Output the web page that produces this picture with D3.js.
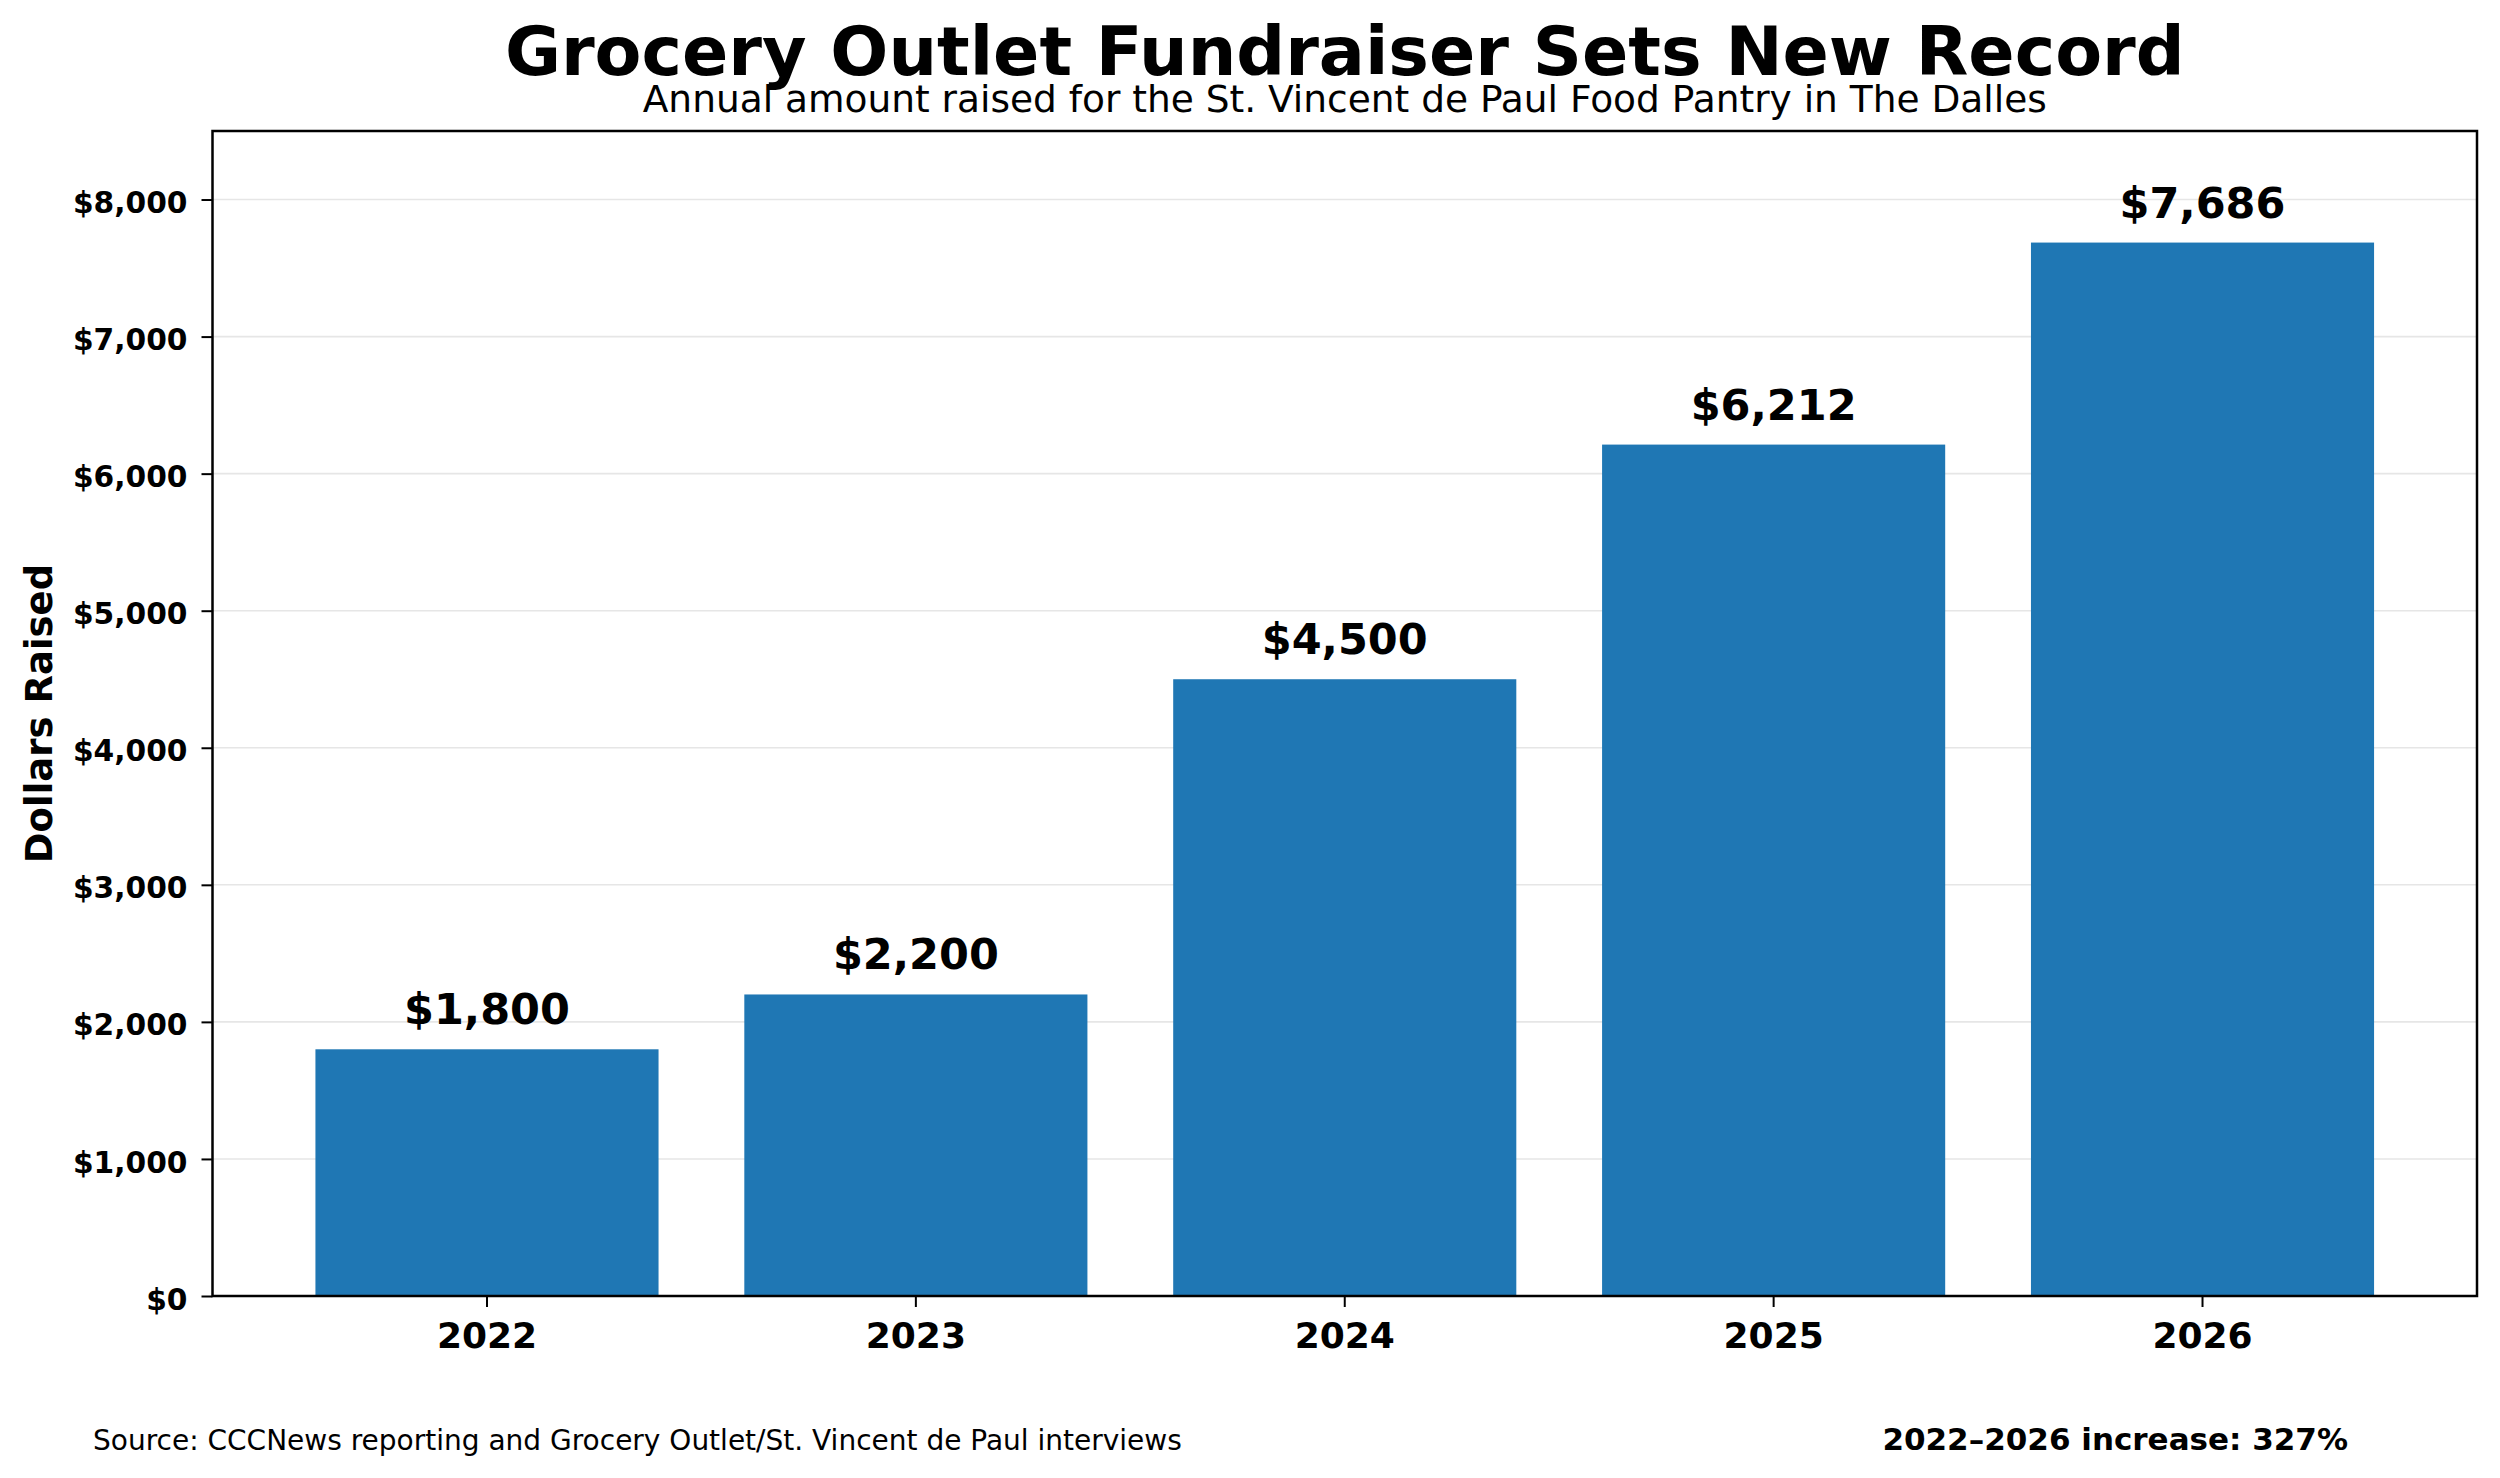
<!DOCTYPE html>
<html lang="en">
    <head>
        <meta charset="utf-8">
        <title>Grocery Outlet Fundraiser</title>
        <script src="https://cdnjs.cloudflare.com/ajax/libs/d3/7.8.5/d3.min.js" charset="utf-8"></script>
        <style>
            body { margin: 0; background: #fff; }
            svg { display: block; font-family: "DejaVu Sans", sans-serif; }
        </style>
    </head>
    <body>
        <div class="container"></div>

        <script type="text/javascript">
            // data
            var years = ["2022", "2023", "2024", "2025", "2026"];
            var raised = [1800, 2200, 4500, 6212, 7686];
            var yTicks = [0, 1000, 2000, 3000, 4000, 5000, 6000, 7000, 8000];

            var title = "Grocery Outlet Fundraiser Sets New Record";
            var subtitle = "Annual amount raised for the St. Vincent de Paul Food Pantry in The Dalles";
            var yLabel = "Dollars Raised";
            var source = "Source: CCCNews reporting and Grocery Outlet/St. Vincent de Paul interviews";
            var increase = "2022\u20132026 increase: 327%";

            var width = 2500, height = 1478;
            // plot box (window.top is reserved, so use a plain object)
            var box = {left: 212.5, right: 2477, top: 131, bottom: 1296};
            var barColor = "#1f77b4";

            var svg = d3.select(".container").append("svg")
                .attr("width", width).attr("height", height);
            svg.append("rect").attr("width", width).attr("height", height).attr("fill", "#fff");

            var x = d3.scaleBand().domain(years).range([box.left, box.right])
                .paddingInner(0.2).paddingOuter(0.24);
            var y = d3.scaleLinear().domain([0, 8500]).range([box.bottom, box.top]);
            var money = function(v) { return "$" + d3.format(",")(v); };

            // grid lines under the bars
            svg.append("g").selectAll("line").data(yTicks).enter().append("line")
                .attr("x1", box.left).attr("x2", box.right)
                .attr("y1", function(d) { return y(d); })
                .attr("y2", function(d) { return y(d); })
                .attr("stroke", "#e6e6e6").attr("stroke-width", 1.6);

            // bars
            svg.append("g").selectAll("rect").data(raised).enter().append("rect")
                .attr("x", function(d, i) { return x(years[i]); })
                .attr("y", function(d) { return y(d); })
                .attr("width", x.bandwidth())
                .attr("height", function(d) { return y(0) - y(d); })
                .attr("fill", barColor);

            // value labels
            svg.append("g").selectAll("text").data(raised).enter().append("text")
                .attr("x", function(d, i) { return x(years[i]) + x.bandwidth() / 2; })
                .attr("y", function(d) { return y(d) - 25; })
                .attr("text-anchor", "middle")
                .attr("font-size", "43px").attr("font-weight", "bold").attr("fill", "#000")
                .text(function(d) { return money(d); });

            // axes
            var yAxis = svg.append("g").attr("transform", "translate(" + box.left + ",0)")
                .call(d3.axisLeft(y).tickValues(yTicks).tickFormat(money).tickSize(11).tickPadding(14));
            yAxis.select(".domain").remove();
            yAxis.selectAll("line").attr("stroke", "#000").attr("stroke-width", 2);
            yAxis.selectAll("text").attr("font-size", "29.7px").attr("font-weight", "bold")
                .attr("font-family", "DejaVu Sans").attr("fill", "#000").attr("dy", "0.44em");

            var xAxis = svg.append("g").attr("transform", "translate(0," + box.bottom + ")")
                .call(d3.axisBottom(x).tickSize(11).tickPadding(15));
            xAxis.select(".domain").remove();
            xAxis.selectAll("line").attr("stroke", "#000").attr("stroke-width", 2);
            xAxis.selectAll("text").attr("font-size", "36px").attr("font-weight", "bold")
                .attr("font-family", "DejaVu Sans").attr("fill", "#000");

            // frame
            svg.append("rect").attr("x", box.left).attr("y", box.top)
                .attr("width", box.right - box.left).attr("height", box.bottom - box.top)
                .attr("fill", "none").attr("stroke", "#000").attr("stroke-width", 2.5);

            // titles
            var cx = (box.left + box.right) / 2;
            svg.append("text").text(title).attr("x", cx).attr("y", 75)
                .attr("text-anchor", "middle").attr("font-size", "68.3px").attr("font-weight", "bold");
            svg.append("text").text(subtitle).attr("x", cx).attr("y", 112)
                .attr("text-anchor", "middle").attr("font-size", "37.5px");

            svg.append("text").text(yLabel)
                .attr("transform", "translate(52," + ((box.top + box.bottom) / 2) + ") rotate(-90)")
                .attr("text-anchor", "middle").attr("font-size", "37px").attr("font-weight", "bold");

            // footer notes
            svg.append("text").text(source).attr("x", 93).attr("y", 1450)
                .attr("font-size", "28px");
            svg.append("text").text(increase).attr("x", 2348).attr("y", 1450)
                .attr("text-anchor", "end").attr("font-size", "31px").attr("font-weight", "bold");
        </script>
    </body>
</html>
